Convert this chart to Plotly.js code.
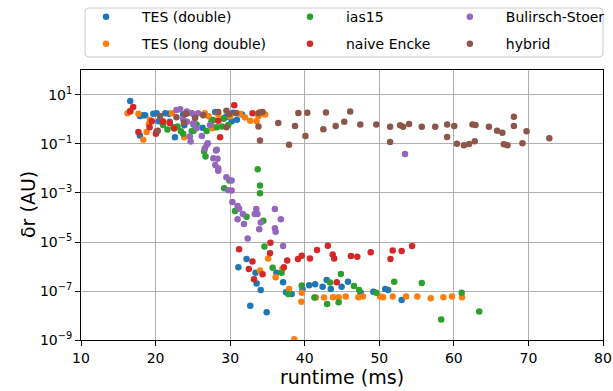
<!DOCTYPE html>
<html>
<head>
<meta charset="utf-8">
<script src="https://cdn.plot.ly/plotly-3.0.1.min.js"></script>
<style>html,body{margin:0;padding:0;background:#fff;}#chart{width:613px;height:391px;}</style>
</head>
<body>
<div id="chart"></div>
<script>
// ---- data (runtime in ms, delta r in AU) ----
const tesDoubleX = [16.6, 17.9, 18.3, 17.9, 18.6, 19.7, 20.15, 20.4, 21.3, 21.8, 22.6, 23.85, 23.7, 21.9, 25.1, 26.3, 28.0, 29.3, 30.2, 30.4, 30.9, 31.6, 29.5,
  32.2, 31.1, 36.2, 33.4, 33.55, 34.1, 37.1, 37.5, 38.25, 39.7, 40.6, 41.4, 42.4, 42.95, 43.5, 44.95, 45.8, 47.5, 49.2, 50.8, 51.2, 53.0, 32.7, 34.9];
const tesDoubleY = [5.7, 1.4, 1.5, 0.22, 1.5, 1.7, 1.8, 0.85, 1.8, 1.7, 0.19, 0.58, 1.6, 0.81, 0.62, 0.46, 2.0, 1.2, 0.85, 1.9, 0.98, 1.6, 1.25,
  2.0e-6, 9.3e-7, 5.6e-7, 5.6e-7, 2.0e-7, 1.1e-7, 2.3e-7, 8.9e-8, 7.6e-8, 1.2e-7, 1.7e-7, 1.9e-7, 1.5e-7, 2.8e-7, 1.2e-7, 1.5e-7, 2.4e-7, 8.5e-8, 9.3e-8, 1.2e-7, 1.1e-7, 4.3e-8, 2.5e-8, 1.35e-8];

const tesLongX = [16.25, 16.6, 17.7, 18.8, 18.35, 19.25, 19.1, 21.0, 22.2, 23.85, 24.85, 26.6, 27.1, 27.75, 28.4, 30.0, 31.3, 32.0, 32.7, 33.55, 33.8, 34.0, 34.45, 34.7, 27.65,
  35.1, 34.0, 37.0, 36.1, 37.9, 39.6, 39.55, 41.5, 42.6, 43.8, 44.55, 45.5, 47.2, 47.8, 50.1, 50.5, 51.8, 53.6, 55.1, 56.9, 58.6, 59.75, 61.1, 38.6];
const tesLongY = [1.8, 2.3, 1.7, 0.31, 0.15, 0.98, 0.66, 0.85, 1.8, 0.19, 1.8, 1.8, 1.35, 0.48, 1.6, 1.35, 1.7, 1.2, 0.89, 0.85, 1.35, 2.0, 1.7, 1.6, 0.44,
  2.1e-6, 6.8e-7, 7.8e-7, 3.6e-7, 1.2e-7, 8.5e-8, 3.6e-8, 5.4e-8, 5.4e-8, 5.5e-8, 5.5e-8, 5.9e-8, 5.5e-8, 5.9e-8, 5.9e-8, 5.5e-8, 5.9e-8, 5.9e-8, 5.9e-8, 5.0e-8, 5.5e-8, 5.9e-8, 5.5e-8, 1.07e-9];

const ias15X = [21.6, 22.4, 23.4, 23.7, 24.85, 22.95, 25.1, 27.5, 28.2, 28.9, 29.1, 25.5, 21.0, 29.75, 27.7, 26.85,
  26.5, 26.7, 29.2, 29.9, 33.7, 34.0, 34.0, 30.65, 32.2, 34.45, 34.6, 35.7, 36.9, 39.6, 37.8, 41.3, 43.0, 43.4, 44.85, 44.55, 46.6, 47.3, 49.6, 52.0, 55.7, 61.05, 63.4, 58.3];
const ias15Y = [0.39, 0.48, 0.33, 0.26, 0.33, 0.52, 0.35, 0.85, 0.48, 0.52, 1.07, 0.62, 0.6, 0.6, 0.95, 0.34,
  0.049, 0.031, 1.55e-3, 3.2e-3, 9.3e-3, 2.0e-3, 9.8e-4, 1.86e-4, 1.07e-4, 7.4e-5, 6.5e-6, 8.9e-7, 5.6e-7, 1.66e-7, 7.6e-8, 5.4e-8, 2.95e-8, 2.2e-7, 4.9e-7, 3.5e-8, 1.6e-7, 1.1e-7, 8.5e-8, 2.4e-7, 2.1e-7, 8.5e-8, 1.45e-8, 6.9e-9];

const enckeX = [17.0, 17.7, 19.2, 20.15, 19.5, 21.9, 22.5, 20.05, 30.55, 33.0, 28.4, 28.65, 21.0, 16.6,
  31.2, 35.4, 35.35, 33.0, 32.5, 34.35, 37.65, 37.2, 39.1, 39.6, 40.7, 41.65, 43.1, 33.2, 43.75, 43.95, 46.2, 47.05, 48.85, 51.5, 51.8, 53.0, 54.4, 44.3];
const enckeY = [3.2, 0.31, 0.48, 0.33, 0.85, 0.72, 0.43, 0.26, 3.8, 1.8, 0.89, 0.19, 0.81, 2.1,
  5.1e-6, 9.3e-6, 3.5e-6, 1.6e-6, 7.9e-7, 4.8e-7, 1.74e-6, 9.3e-7, 2.0e-6, 2.75e-6, 2.1e-6, 4.7e-6, 7.1e-6, 3.0e-7, 3.1e-6, 2.1e-6, 2.7e-6, 2.5e-6, 3.8e-6, 2.0e-6, 4.5e-6, 4.3e-6, 6.9e-6, 2.3e-7];

const bsX = [22.8, 23.3, 24.2, 24.85, 25.3, 25.05, 25.5, 24.6, 24.7, 27.3, 26.2, 25.7, 24.2, 23.7,
  27.0, 28.2, 27.75, 28.3, 28.0, 28.4, 28.4, 29.5, 30.2, 29.75, 30.2, 26.85, 26.6, 28.1, 30.3, 31.0, 31.2, 31.7, 31.0, 31.85, 33.5, 33.3, 33.65, 34.1, 33.9, 36.0, 36.8, 36.0, 36.1, 32.35, 37.1, 53.45];
const bsY = [2.45, 2.6, 2.1, 1.8, 1.3, 0.69, 0.44, 0.2, 0.126, 0.6, 0.21, 1.8, 0.81, 1.02,
  0.107, 0.058, 0.026, 0.025, 0.0138, 0.0102, 8.1e-3, 4.4e-3, 3.2e-3, 1.3e-3, 1.26e-3, 0.091, 0.066, 0.054, 4.3e-4, 2.95e-4, 2.3e-4, 1.38e-4, 8.5e-5, 5.4e-5, 2.2e-4, 1.38e-4, 1.38e-4, 6.3e-5, 3.3e-5, 2.2e-4, 8.5e-5, 3.6e-5, 2.6e-5, 1.4e-5, 6.9e-6, 0.039];

const hybridX = [20.3, 22.8, 24.0, 25.3, 26.4, 28.4, 29.5, 29.9, 30.8, 29.5, 33.8, 34.0, 34.35, 36.45, 37.9, 20.6, 24.1, 23.8, 33.8,
  38.7, 39.15, 40.1, 40.35, 42.5, 42.85, 44.15, 45.3, 46.1, 47.45, 49.6, 51.45, 51.45, 52.8, 53.2, 54.0, 55.7, 57.5, 59.1, 59.1, 60.05,
  60.4, 61.35, 62.05, 62.8, 62.5, 62.9, 64.7, 65.8, 66.5, 68.05, 68.05, 66.7, 67.2, 69.2, 69.75, 72.8];
const hybridY = [0.35, 1.23, 1.66, 1.15, 1.48, 2.04, 2.3, 1.66, 1.82, 0.48, 0.52, 0.138, 2.04, 0.72, 0.093, 1.38, 1.7, 0.74, 1.8,
  0.54, 1.86, 0.21, 1.9, 0.4, 1.95, 0.54, 0.81, 2.1, 0.63, 0.63, 0.51, 0.12, 0.58, 0.51, 0.66, 0.51, 0.51, 0.63, 0.195, 0.54,
  0.102, 0.089, 0.1, 0.129, 0.62, 0.59, 0.51, 0.35, 0.29, 1.29, 0.54, 0.098, 0.089, 0.107, 0.33, 0.17];

const seriesNames = ['TES (double)', 'TES (long double)', 'ias15', 'naive Encke', 'Bulirsch-Stoer', 'hybrid'];
const seriesX = [tesDoubleX, tesLongX, ias15X, enckeX, bsX, hybridX];
const seriesY = [tesDoubleY, tesLongY, ias15Y, enckeY, bsY, hybridY];
const colors = ['#1f77b4', '#ff7f0e', '#2ca02c', '#d62728', '#9467bd', '#8c564b'];

const yTickVals = [1e1, 1e-1, 1e-3, 1e-5, 1e-7, 1e-9];
const yTickText = ['10<sup>1</sup>', '10<sup>−1</sup>', '10<sup>−3</sup>', '10<sup>−5</sup>', '10<sup>−7</sup>', '10<sup>−9</sup>'];
const xTickVals = [10, 20, 30, 40, 50, 60, 70, 80];

// legend placement (paper coords) : column-major, 3 columns x 2 rows
const legendCols = [-0.021, 0.3697, 0.676];
const legendRows = [1.196, 1.096];
const legendSlot = [[0, 0], [0, 1], [1, 0], [1, 1], [2, 0], [2, 1]];

const FONT = 'DejaVu Sans, Liberation Sans, sans-serif';
const traces = [];
const layout = {
  width: 613, height: 391,
  margin: {l: 81, r: 10, t: 70, b: 51, pad: 0, autoexpand: false},
  paper_bgcolor: '#ffffff', plot_bgcolor: '#ffffff',
  font: {family: FONT, size: 14, color: '#000'},
  showlegend: true,
  xaxis: {
    range: [10, 80], tickvals: xTickVals, ticks: 'outside', ticklen: 5, tickwidth: 1, tickcolor: '#000',
    showgrid: true, gridcolor: '#b0b0b0', gridwidth: 1, zeroline: false,
    showline: true, linecolor: '#000', linewidth: 1, mirror: true,
    tickfont: {family: FONT, size: 14, color: '#000'},
    title: {text: 'runtime (ms)', font: {family: FONT, size: 19, color: '#000'}, standoff: 4}
  },
  yaxis: {
    type: 'log', range: [-9, 2.02], tickvals: yTickVals, ticktext: yTickText,
    ticks: 'outside', ticklen: 5, tickwidth: 1, tickcolor: '#000',
    showgrid: true, gridcolor: '#b0b0b0', gridwidth: 1, zeroline: false,
    showline: true, linecolor: '#000', linewidth: 1, mirror: true,
    tickfont: {family: FONT, size: 14, color: '#000'}
  },
  annotations: [{
    text: 'δr (AU)', xref: 'paper', yref: 'paper', x: (28 - 81) / 522, y: 0.5,
    xanchor: 'center', yanchor: 'middle', textangle: -90, showarrow: false,
    font: {family: FONT, size: 19, color: '#000'}
  }],
  shapes: [],
  hovermode: false
};

// legend frame (rounded rectangle) in paper coordinates
(function () {
  const x0 = 4 / 522, x1 = 522 / 522, y0 = 1 + 13 / 270, y1 = 1 + 62 / 270;
  const rx = 4 / 522, ry = 4 / 270;
  const p = `M ${x0 + rx},${y0} L ${x1 - rx},${y0} Q ${x1},${y0} ${x1},${y0 + ry} L ${x1},${y1 - ry} Q ${x1},${y1} ${x1 - rx},${y1} ` +
            `L ${x0 + rx},${y1} Q ${x0},${y1} ${x0},${y1 - ry} L ${x0},${y0 + ry} Q ${x0},${y0} ${x0 + rx},${y0} Z`;
  layout.shapes.push({type: 'path', xref: 'paper', yref: 'paper', path: p,
    line: {color: '#cccccc', width: 1}, fillcolor: 'rgba(255,255,255,0.8)', layer: 'above'});
})();

for (let i = 0; i < seriesNames.length; i++) {
  const key = i === 0 ? 'legend' : 'legend' + (i + 1);
  traces.push({
    type: 'scatter', mode: 'markers', name: seriesNames[i],
    x: seriesX[i], y: seriesY[i],
    marker: {color: colors[i], size: 6.5, line: {width: 0}},
    legend: key, cliponaxis: true
  });
  const [c, r] = legendSlot[i];
  layout[key] = {
    x: legendCols[c], y: legendRows[r], xanchor: 'left', yanchor: 'middle',
    bgcolor: 'rgba(0,0,0,0)', borderwidth: 0, itemwidth: 62,
    font: {family: FONT, size: 14, color: '#000'}
  };
}

Plotly.newPlot('chart', traces, layout, {staticPlot: true, displayModeBar: false});
</script>
</body>
</html>
